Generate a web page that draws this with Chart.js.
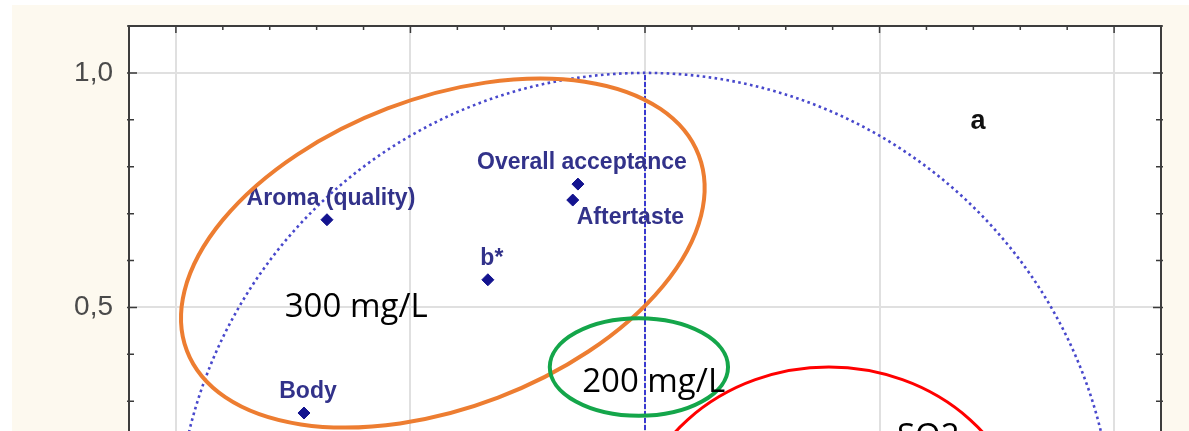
<!DOCTYPE html>
<html>
<head>
<meta charset="utf-8">
<script src="https://cdn.jsdelivr.net/npm/chart.js@4/dist/chart.umd.min.js"></script>
<style>
  html, body { margin: 0; padding: 0; background: #ffffff; }
  #frame { position: relative; width: 1189px; height: 431px; overflow: hidden; background: #ffffff; }
  #cream { position: absolute; left: 12px; top: 5px; right: 0; bottom: 0; background: #fdf9ef; }
  #c { position: absolute; left: 0; top: 0; }
</style>
</head>
<body>
<div id="frame">
  <div id="cream"></div>
  <canvas id="c" width="1189" height="1130"></canvas>
</div>
<script>
// ---- data ----
const variableNames = ['Aroma (quality)', 'Overall acceptance', 'Aftertaste', 'b*', 'Body'];
const factor1Loadings = [-0.678, -0.143, -0.154, -0.335, -0.727];
const factor2Loadings = [0.687, 0.763, 0.729, 0.559, 0.275];
const labelPlacement = ['above', 'above', 'below', 'above', 'above'];

const axisRange = [-1.1, 1.1];
const tickStep = 0.1;
const verticalAxisLine = [{ x: 0, y: -1 }, { x: 0, y: 1 }];
const horizontalAxisLine = [{ x: -1, y: 0 }, { x: 1, y: 0 }];

const panelLetter = { text: 'a', x: 0.71, y: 0.896 };
const groupTexts = [
  { text: '300 mg/L', x: -0.768, y: 0.499 },
  { text: '200 mg/L', x: -0.134, y: 0.339 },
  { text: 'SO2', x: 0.537, y: 0.222 }
];
// ellipses: centre x, centre y, semi-axis x, semi-axis y, rotation (deg), colour
const groupEllipses = [
  { cx: -0.431, cy: 0.616, rx: 0.584, ry: 0.330, rot: -20.9, color: '#ed7d31', w: 4 },
  { cx: -0.013, cy: 0.373, rx: 0.190, ry: 0.104, rot: 0, color: '#14a64a', w: 4 },
  { cx: 0.392, cy: -0.011, rx: 0.426, ry: 0.384, rot: 0, color: '#ff0000', w: 3 }
];

const points = factor1Loadings.map((x, i) => ({ x: x, y: factor2Loadings[i] }));

function isMajor(v) { return Math.abs(v * 2 - Math.round(v * 2)) < 1e-6; }
function fmt(v) {
  if (!isMajor(v)) return '';
  let s = (Math.round(v * 10) / 10).toFixed(1).replace('.', ',');
  if (s === '-0,0') s = '0,0';
  return s;
}

const decor = {
  id: 'decor',
  beforeDraw(chart) {
    const a = chart.chartArea, ctx = chart.ctx;
    ctx.save();
    ctx.fillStyle = '#ffffff';
    ctx.fillRect(a.left, a.top, a.right - a.left, a.bottom - a.top);
    ctx.restore();
  },
  beforeDatasetsDraw(chart) {
    const ctx = chart.ctx, xs = chart.scales.x, ys = chart.scales.y;
    const cx = xs.getPixelForValue(0), cy = ys.getPixelForValue(0);
    const r = xs.getPixelForValue(1) - cx;
    ctx.save();
    ctx.strokeStyle = '#4848cc';
    ctx.lineWidth = 2.6;
    ctx.setLineDash([2.6, 3.4]);
    ctx.beginPath();
    ctx.arc(cx, cy, r, 0, Math.PI * 2);
    ctx.stroke();
    ctx.restore();
  },
  afterDatasetsDraw(chart) {
    const ctx = chart.ctx, a = chart.chartArea, xs = chart.scales.x, ys = chart.scales.y;
    ctx.save();
    // inward tick marks
    ctx.strokeStyle = '#3a3a3a';
    ctx.lineWidth = 1.5;
    ys.ticks.forEach(t => {
      const y = ys.getPixelForValue(t.value);
      const len = isMajor(t.value) ? 8 : 5;
      ctx.beginPath();
      ctx.moveTo(a.left - 2, y); ctx.lineTo(a.left + len, y);
      ctx.moveTo(a.right - len, y); ctx.lineTo(a.right + 2, y);
      ctx.stroke();
    });
    xs.ticks.forEach(t => {
      const x = xs.getPixelForValue(t.value);
      const len = isMajor(t.value) ? 7 : 4;
      ctx.beginPath();
      ctx.moveTo(x, a.top); ctx.lineTo(x, a.top + len);
      ctx.moveTo(x, a.bottom - len); ctx.lineTo(x, a.bottom);
      ctx.stroke();
    });
    // frame
    ctx.strokeStyle = '#3d3d3d';
    ctx.lineWidth = 2;
    ctx.strokeRect(a.left, a.top, a.right - a.left, a.bottom - a.top);

    // variable labels
    ctx.fillStyle = '#32328a';
    ctx.font = 'bold 23px "Liberation Sans", Arial, sans-serif';
    ctx.textBaseline = 'middle';
    variableNames.forEach((name, i) => {
      const px = xs.getPixelForValue(factor1Loadings[i]);
      const py = ys.getPixelForValue(factor2Loadings[i]);
      if (labelPlacement[i] === 'below') {
        ctx.textAlign = 'left';
        ctx.fillText(name, px + 4, py + 18);
      } else {
        ctx.textAlign = 'center';
        ctx.fillText(name, px + 4, py - 21);
      }
    });

    // panel letter
    ctx.fillStyle = '#111111';
    ctx.font = 'bold 27px "Liberation Sans", Arial, sans-serif';
    ctx.textAlign = 'center';
    ctx.fillText(panelLetter.text, xs.getPixelForValue(panelLetter.x), ys.getPixelForValue(panelLetter.y));

    // group ellipses
    groupEllipses.forEach(e => {
      const ex = xs.getPixelForValue(e.cx), ey = ys.getPixelForValue(e.cy);
      const rx = xs.getPixelForValue(e.cx + e.rx) - ex;
      const ry = ey - ys.getPixelForValue(e.cy + e.ry);
      ctx.strokeStyle = e.color;
      ctx.lineWidth = e.w;
      ctx.setLineDash([]);
      ctx.beginPath();
      ctx.ellipse(ex, ey, rx, ry, e.rot * Math.PI / 180, 0, Math.PI * 2);
      ctx.stroke();
    });

    // group texts
    ctx.fillStyle = '#000000';
    ctx.font = '33px "Open Sans", sans-serif';
    ctx.textAlign = 'left';
    ctx.textBaseline = 'middle';
    groupTexts.forEach(t => {
      ctx.fillText(t.text, xs.getPixelForValue(t.x), ys.getPixelForValue(t.y));
    });
    ctx.restore();
  }
};

const gridColor = (c) => (c.tick && isMajor(c.tick.value) ? '#e0e0e0' : 'rgba(0,0,0,0)');
function noOverflow(s) {
  s.paddingTop = 0; s.paddingBottom = 0; s.paddingLeft = 0; s.paddingRight = 0;
}

new Chart(document.getElementById('c'), {
  type: 'scatter',
  data: {
    datasets: [
      {
        label: 'vertical axis',
        data: verticalAxisLine,
        showLine: true,
        borderColor: '#3a3ad0',
        borderWidth: 2,
        borderDash: [5, 2],
        pointRadius: 0
      },
      {
        label: 'horizontal axis',
        data: horizontalAxisLine,
        showLine: true,
        borderColor: '#3a3ad0',
        borderWidth: 2,
        borderDash: [5, 2],
        pointRadius: 0
      },
      {
        label: 'loadings',
        data: points,
        pointStyle: 'rectRot',
        pointRadius: 6,
        backgroundColor: '#13138f',
        borderColor: '#13138f',
        borderWidth: 1
      }
    ]
  },
  options: {
    responsive: false,
    devicePixelRatio: 1,
    animation: false,
    layout: { padding: { left: 0, right: 28, top: 26, bottom: 12 } },
    plugins: { legend: { display: false }, tooltip: { enabled: false } },
    scales: {
      x: {
        type: 'linear',
        min: axisRange[0], max: axisRange[1],
        afterFit: (s) => { s.height = 60; noOverflow(s); },
        ticks: {
          stepSize: tickStep, autoSkip: false, maxRotation: 0,
          callback: (v) => fmt(v),
          color: '#4a4a4a', font: { family: '"Liberation Sans", Arial', size: 28 }
        },
        grid: { color: gridColor, lineWidth: 2, drawTicks: false },
        border: { display: false }
      },
      y: {
        type: 'linear',
        min: axisRange[0], max: axisRange[1],
        afterFit: (s) => { s.width = 129; noOverflow(s); },
        ticks: {
          stepSize: tickStep, autoSkip: false, padding: 16,
          callback: (v) => fmt(v),
          color: '#4a4a4a', font: { family: '"Liberation Sans", Arial', size: 28 }
        },
        grid: { color: gridColor, lineWidth: 2, drawTicks: false },
        border: { display: false }
      }
    }
  },
  plugins: [decor]
});
</script>
</body>
</html>
